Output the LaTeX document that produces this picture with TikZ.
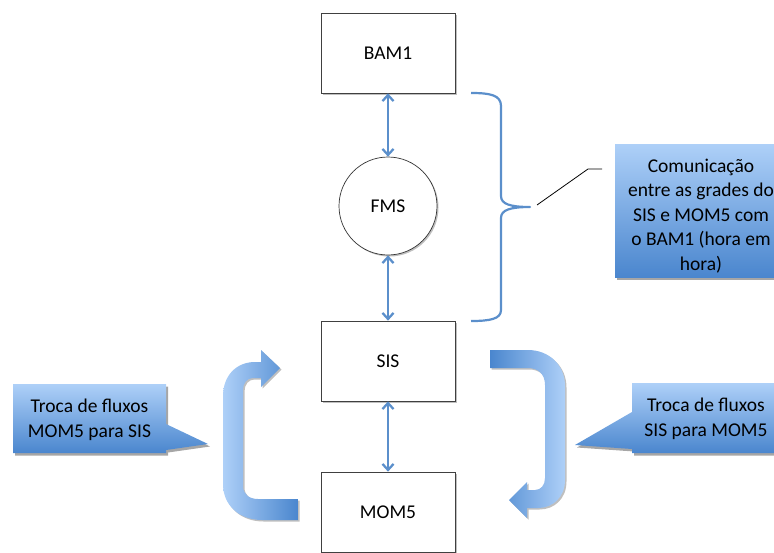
\documentclass[tikz,border=0pt]{standalone}
\usepackage{fontspec}
\setmainfont{Carlito}
\usetikzlibrary{arrows.meta,shadows}

\definecolor{linkblue}{RGB}{91,143,203}
\definecolor{fillLight}{RGB}{174,208,248}
\definecolor{fillDark}{RGB}{74,134,206}

\begin{document}
\begin{tikzpicture}[x=1pt,y=-1pt,
  every node/.style={font=\fontsize{19.5}{25}\selectfont},
  softshadow/.style={drop shadow={shadow xshift=1.5pt,shadow yshift=-1.5pt,opacity=.25,fill=black}},
  calloutshadow/.style={drop shadow={shadow xshift=2pt,shadow yshift=-2.5pt,opacity=.35,fill=black}},
  boxnode/.style={draw=black!75,line width=0.7pt,fill=white,minimum width=134pt,minimum height=80pt,inner sep=0pt,softshadow},
  circnode/.style={draw=black!80,line width=0.7pt,fill=white,circle,minimum size=98pt,inner sep=0pt,softshadow},
  link/.style={draw=linkblue,line width=2.3pt,{Straight Barb[length=6pt,width=11pt]}-{Straight Barb[length=6pt,width=11pt]}},
  bracestyle/.style={draw=linkblue,line width=2.2pt,line join=round},
  calloutfill/.style={top color=fillLight,bottom color=fillDark,calloutshadow},
  uarrowL/.style={left color=fillLight,right color=fillDark,softshadow},
  uarrowR/.style={left color=fillDark,right color=fillLight,softshadow},
  labeltext/.style={align=center,inner sep=0pt}
]
\useasboundingbox (0,0) rectangle (774,552);

% main nodes
\node[boxnode] (bam) at (388,53) {BAM1};
\node[circnode] (fms) at (388,206) {FMS};
\node[boxnode] (sis) at (388,361) {SIS};
\node[boxnode] (mom) at (388,512) {MOM5};

% connectors
\draw[link] (bam.south) -- (fms.north);
\draw[link] (fms.south) -- (sis.north);
\draw[link] (sis.south) -- (mom.north);

% brace
\draw[bracestyle] (471,93) .. controls (490,93) and (501,95) .. (501,106)
  -- (501,196) .. controls (501,204) and (510,207) .. (530,207)
  .. controls (510,207) and (501,210) .. (501,218)
  -- (501,310) .. controls (501,319) and (490,321) .. (471,321);

% communication callout box
\shade[calloutfill] (615,144) rectangle (787,277);
\node[labeltext,font=\fontsize{19.5}{24.5}\selectfont] (comm) at (701,216) {Comunicação\\entre as grades do\\SIS e MOM5 com\\o BAM1 (hora em\\hora)};
\coordinate (commA) at (537,205);
\coordinate (commB) at (588,169);
\coordinate (commC) at (602,169);
\draw[black,line width=0.8pt] (commA) -- (commB) -- (commC);

% left callout
\shade[calloutfill] (13,384) -- (166,384) -- (166,424) -- (208,444) -- (166,450) -- (166,453) -- (13,453) -- cycle;
\node[labeltext] (lcall) at (89.5,420) {Troca de fluxos\\MOM5 para SIS};

% right callout
\shade[calloutfill] (632,383) -- (782,383) -- (782,453) -- (632,453) -- (632,449) -- (575,445) -- (632,412) -- cycle;
\node[labeltext] (rcall) at (706,419) {Troca de fluxos\\SIS para MOM5};

% left U-turn arrow (MOM5 to SIS)
\shade[uarrowL] (298,520) -- (262,520) .. controls (239,520) and (223,505) .. (223,484)
  -- (223,396) .. controls (223,376) and (236,362) .. (255,362) -- (261,362)
  -- (261,350) -- (280,368) -- (261,387) -- (261,378) -- (253,378)
  .. controls (247,378) and (243,383) .. (243,390) -- (243,486)
  .. controls (243,494) and (249,499) .. (258,499) -- (298,499) -- cycle;

% right U-turn arrow (SIS to MOM5)
\shade[uarrowR] (490,350) -- (528,350) .. controls (549,350) and (565,365) .. (565,386)
  -- (565,480) .. controls (565,497) and (553,508) .. (538,508) -- (527,508)
  -- (527,518) -- (509,500) -- (527,482) -- (527,490) -- (535,490)
  .. controls (541,490) and (545,485) .. (545,478) -- (545,385)
  .. controls (545,374) and (538,368) .. (528,368) -- (490,368) -- cycle;
\end{tikzpicture}
\end{document}
